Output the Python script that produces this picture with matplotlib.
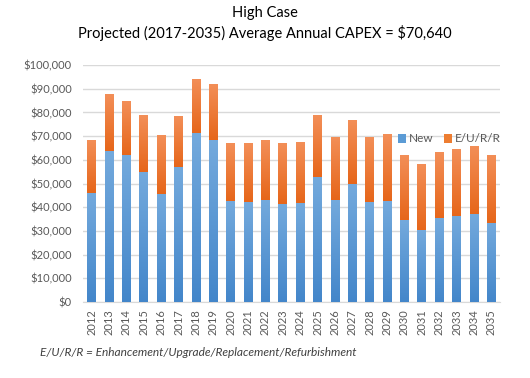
import matplotlib
matplotlib.use("Agg")
import matplotlib.pyplot as plt
import numpy as np
from matplotlib.colors import LinearSegmentedColormap

years = [str(y) for y in range(2012, 2036)]
new_vals = [45900, 63800, 62100, 54900, 45600, 57000, 71300, 68500, 42700, 42300, 43100,
            41400, 41900, 52800, 43100, 49900, 42300, 42700, 34700, 30500, 35500, 36400, 37200, 33400]
total_vals = [68400, 87800, 84800, 78900, 70500, 78500, 94100, 92000, 67100, 67100, 68400,
              67100, 67600, 78900, 69700, 76800, 69700, 70900, 62100, 58300, 63300, 64600, 65900, 62100]
eurr_vals = [t - n for t, n in zip(total_vals, new_vals)]
yticks = list(range(0, 100001, 10000))

plt.rcParams['font.family'] = ['Lato', 'DejaVu Sans']
txt = '#595959'

fig = plt.figure(figsize=(5.3, 3.78), dpi=100)
ax = fig.add_axes([83/530, 1-302/378, (500-83)/530, (302-65)/378])

x = np.arange(len(years))
b1 = ax.bar(x, new_vals, width=0.5, color='#5B9BD5', label='New', zorder=3)
b2 = ax.bar(x, eurr_vals, bottom=new_vals, width=0.5, color='#ED7D31', label='E/U/R/R', zorder=3)

cm_blue = LinearSegmentedColormap.from_list('b', ['#4386ca', '#74aadd'])
cm_orange = LinearSegmentedColormap.from_list('o', ['#e6661a', '#f38f58'])
grad = np.linspace(0, 1, 256).reshape(-1, 1)
for bars, cm in ((b1, cm_blue), (b2, cm_orange)):
    for p in bars.patches:
        x0, y0 = p.get_x(), p.get_y()
        w, h = p.get_width(), p.get_height()
        im = ax.imshow(grad, cmap=cm, origin='lower', aspect='auto',
                       extent=(x0, x0 + w, y0, y0 + h), zorder=3.1, interpolation='bilinear')
        im.set_clip_path(p)

ax.set_ylim(0, 100000)
ax.set_xlim(-0.5, len(years) - 0.5)
ax.set_yticks(yticks)
ax.set_yticklabels(['${:,}'.format(v) for v in yticks], fontsize=8, color=txt)
ax.set_xticks(x)
ax.set_xticklabels(years, rotation=90, fontsize=8, color=txt)
ax.tick_params(axis='y', length=0, pad=8)
ax.tick_params(axis='x', length=0, pad=5)
ax.grid(axis='y', color='#d9d9d9', linewidth=1, zorder=0)
for s in ['top', 'right', 'left']:
    ax.spines[s].set_visible(False)
ax.spines['bottom'].set_color('#d9d9d9')

leg = ax.legend(loc='center left', bbox_to_anchor=((392-83)/417, (302-139)/237), ncol=2,
                frameon=False, fontsize=8.5, handlelength=0.7, handleheight=0.7,
                columnspacing=0.9, handletextpad=0.2, labelcolor=txt, borderpad=0)
leg.set_zorder(5)

fig.text(0.5, 1-13/378, 'High Case', ha='center', va='center', fontsize=10.5, color='black')
fig.text(0.5, 1-33/378, 'Projected (2017-2035) Average Annual CAPEX = $70,640', ha='center',
         va='center', fontsize=10.5, color='black')
fig.text(40/530, 1-353/378, 'E/U/R/R = Enhancement/Upgrade/Replacement/Refurbishment',
         ha='left', va='center', fontsize=8.6, style='italic', color='#404040')

fig.savefig('out.png', dpi=100)
